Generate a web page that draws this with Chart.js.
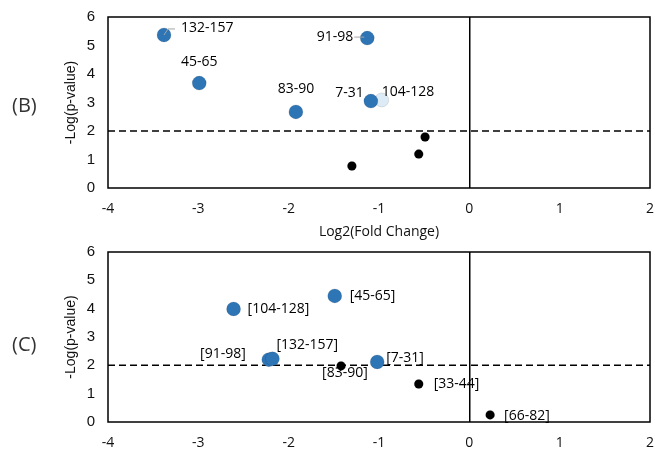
<!DOCTYPE html>
<html>
<head>
<meta charset="utf-8">
<script src="https://cdn.jsdelivr.net/npm/chart.js@4.4.1/dist/chart.umd.min.js"></script>
<style>
  html, body { margin: 0; padding: 0; background: #fff; }
  #wrap { position: relative; width: 655px; height: 450px; }
  .box { position: absolute; left: 0; width: 655px; }
  .panel { position: absolute; left: 12px; font: 20px "Open Sans", sans-serif; color: #333; }
</style>
</head>
<body>
<div id="wrap">
  <div class="box" style="top:0;height:245px"><canvas id="chartB" width="655" height="245"></canvas></div>
  <div class="box" style="top:245px;height:205px"><canvas id="chartC" width="655" height="205"></canvas></div>
  <div class="panel" style="top:91px">(B)</div>
  <div class="panel" style="top:330px">(C)</div>
</div>
<script>
// --- dados painel (B) ---
const sigLabelsB = ['132-157', '45-65', '83-90', '91-98', '7-31'];
const sigFcB = [-3.38, -2.99, -1.92, -1.13, -1.09];
const sigPB = [5.37, 3.68, 2.67, 5.26, 3.05];
const lightLabelsB = ['104-128'];
const lightFcB = [-0.97];
const lightPB = [3.09];
const nsFcB = [-0.49, -0.56, -1.30];
const nsPB = [1.79, 1.19, 0.77];

// --- dados painel (C) ---
const sigLabelsC = ['[104-128]', '[45-65]', '[91-98]', '[132-157]', '[7-31]'];
const sigFcC = [-2.61, -1.49, -2.22, -2.18, -1.02];
const sigPC = [3.99, 4.45, 2.20, 2.23, 2.12];
const nsLabelsC = ['[83-90]', '[33-44]', '[66-82]'];
const nsFcC = [-1.42, -0.56, 0.23];
const nsPC = [1.98, 1.34, 0.25];

// eixos / limiar
const xMin = -4, xMax = 2;
const yMin = 0, yMax = 6;
const limiar = 2;

// posicao dos rotulos (dx, dy, alinhamento) e linhas guia
const offSigB = [[17, -7, 'left'], [0, -21, 'center'], [0, -23, 'center'], [-14, -1, 'right'], [-7, -8, 'right']];
const offLightB = [[0, -8, 'left']];
const guiasB = [[0, [[0, 0], [4, -6], [11, -6]]], [3, [[-13, -1], [-3, -1]]]];
const offSigC = [[14, 0, 'left'], [15, 0, 'left'], [-23, -6, 'right'], [4, -14, 'left'], [9, -4, 'left']];
const offNsC = [[-19, 7, 'left'], [15, 0, 'left'], [14, 1, 'left']];

const azul = '#2E75B6';
const azulClaro = '#DDEBF7';

const pts = (xs, ys) => xs.map((x, i) => ({ x: x, y: ys[i] }));

const rotulos = {
  id: 'rotulos',
  afterDatasetsDraw(chart, args, opts) {
    const ctx = chart.ctx;
    const a = chart.chartArea;
    ctx.save();
    // caixa
    ctx.strokeStyle = '#000';
    ctx.lineWidth = 1.5;
    ctx.strokeRect(a.left, a.top, a.right - a.left, a.bottom - a.top);
    // linhas guia
    (opts.guias || []).forEach(([ds, i, path]) => {
      const p = chart.getDatasetMeta(ds).data[i];
      ctx.strokeStyle = '#A6A6A6';
      ctx.lineWidth = 1;
      ctx.beginPath();
      path.forEach(([dx, dy], k) => k ? ctx.lineTo(p.x + dx, p.y + dy) : ctx.moveTo(p.x + dx, p.y + dy));
      ctx.stroke();
    });
    ctx.font = '14px "Open Sans", sans-serif';
    ctx.fillStyle = '#000';
    ctx.textBaseline = 'middle';
    (opts.sets || []).forEach(([ds, labels, offs]) => {
      const meta = chart.getDatasetMeta(ds);
      labels.forEach((txt, i) => {
        const p = meta.data[i];
        const [dx, dy, al] = offs[i];
        ctx.textAlign = al;
        ctx.fillText(txt, p.x + dx, p.y + dy);
      });
    });
    ctx.restore();
  }
};

function opcoes(cfg) {
  return {
    responsive: false,
    animation: false,
    events: [],
    layout: { autoPadding: false, padding: { top: cfg.top, right: 5, left: 0, bottom: 0 } },
    plugins: {
      legend: { display: false },
      tooltip: { enabled: false },
      rotulos: { sets: cfg.sets, guias: cfg.guias }
    },
    scales: {
      x: {
        type: 'linear',
        min: xMin, max: xMax,
        afterFit: s => { s.height = cfg.xh; s.paddingLeft = 0; s.paddingRight = 0; },
        ticks: { stepSize: 1, padding: 13, color: '#111', font: { family: 'Open Sans', size: 14 } },
        grid: {
          drawTicks: false,
          lineWidth: 1.5,
          color: c => c.tick && c.tick.value === 0 ? '#000' : 'rgba(0,0,0,0)'
        },
        border: { display: false },
        title: {
          display: cfg.xTitle,
          text: 'Log2(Fold Change)',
          color: '#111',
          font: { family: 'Open Sans', size: 14 },
          padding: { top: 0, bottom: 5 }
        }
      },
      y: {
        type: 'linear',
        min: yMin, max: yMax,
        afterFit: s => { s.width = 108; s.paddingTop = 0; s.paddingBottom = 0; },
        ticks: { stepSize: 1, padding: 13, color: '#111', font: { family: 'Liberation Sans', size: 15 } },
        grid: { display: false, drawTicks: false },
        border: { display: false },
        title: {
          display: true,
          text: '-Log(p-value)',
          color: '#111',
          font: { family: 'Liberation Sans', size: 14 },
          padding: { top: 63, bottom: 0 }
        }
      }
    }
  };
}

const linhaLimiar = {
  type: 'line',
  data: [{ x: xMin, y: limiar }, { x: xMax, y: limiar }],
  borderColor: '#000',
  borderWidth: 1.5,
  borderDash: [7, 4],
  pointRadius: 0,
  order: 10
};

new Chart(document.getElementById('chartB'), {
  type: 'scatter',
  data: {
    datasets: [
      { data: pts(lightFcB, lightPB), backgroundColor: azulClaro, pointRadius: 7, order: 3 },
      { data: pts(sigFcB, sigPB), backgroundColor: azul, pointRadius: 7, order: 2 },
      { data: pts(nsFcB, nsPB), backgroundColor: '#000', pointRadius: 4.5, order: 1 },
      linhaLimiar
    ]
  },
  options: opcoes({
    top: 17, xh: 57, xTitle: true,
    sets: [[1, sigLabelsB, offSigB], [0, lightLabelsB, offLightB]],
    guias: guiasB.map(([i, path]) => [1, i, path])
  }),
  plugins: [rotulos]
});

new Chart(document.getElementById('chartC'), {
  type: 'scatter',
  data: {
    datasets: [
      { data: pts(sigFcC, sigPC), backgroundColor: azul, pointRadius: 7, order: 2 },
      { data: pts(nsFcC, nsPC), backgroundColor: '#000', pointRadius: 4.5, order: 1 },
      linhaLimiar
    ]
  },
  options: opcoes({
    top: 7, xh: 28, xTitle: false,
    sets: [[0, sigLabelsC, offSigC], [1, nsLabelsC, offNsC]],
    guias: []
  }),
  plugins: [rotulos]
});
</script>
</body>
</html>
